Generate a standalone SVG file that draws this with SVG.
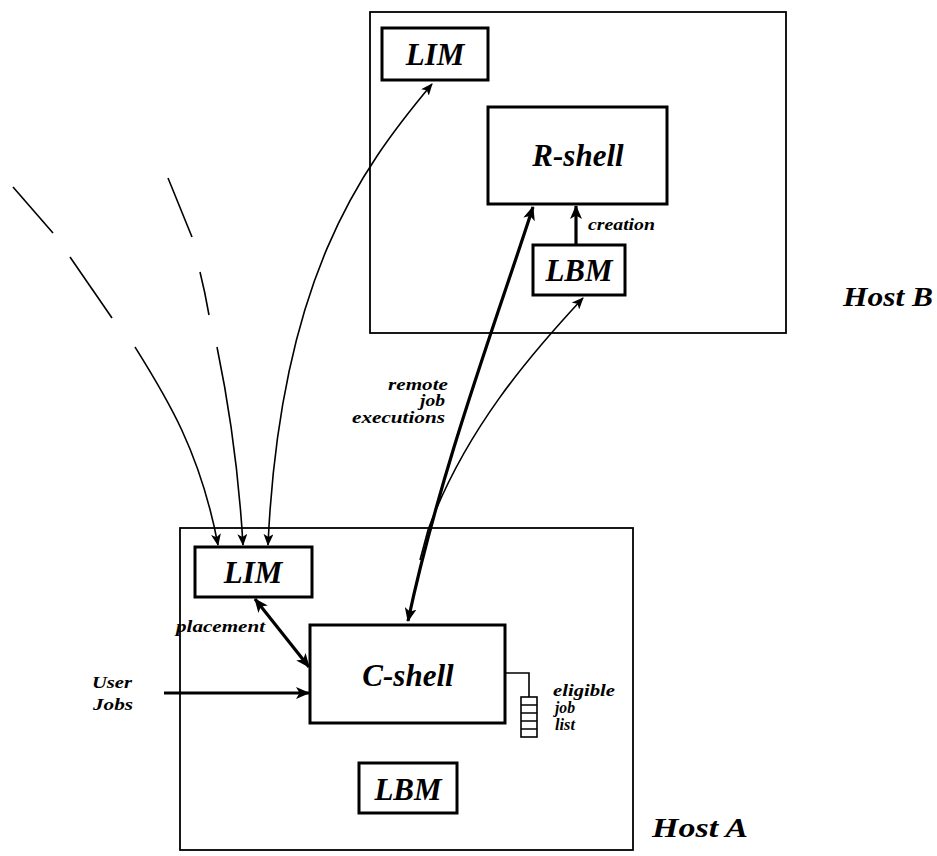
<svg xmlns="http://www.w3.org/2000/svg" width="937" height="856" viewBox="0 0 937 856">
<style>
.host{fill:none;stroke:#000;stroke-width:1.8}
.box{fill:#fff;stroke:#000;stroke-width:3}
.big{font-family:"Liberation Serif",serif;font-weight:bold;font-style:italic;font-size:31px;text-anchor:middle}
.hl{font-family:"Liberation Serif",serif;font-weight:bold;font-style:italic;font-size:28px}
.sm{font-family:"Liberation Serif",serif;font-weight:bold;font-style:italic;font-size:16px}
.thin{fill:none;stroke:#000;stroke-width:1.6}
.thick{fill:none;stroke:#000;stroke-width:3.2}
</style>
<defs>
<marker id="ah" viewBox="0 0 12 10" refX="11" refY="5" markerWidth="12" markerHeight="10" markerUnits="userSpaceOnUse" orient="auto-start-reverse">
<path d="M0,0 L12,5 L0,10 L3,5 z" fill="#000"/>
</marker>
<marker id="ahb" viewBox="0 0 14 12" refX="13" refY="6" markerWidth="14" markerHeight="12" markerUnits="userSpaceOnUse" orient="auto-start-reverse">
<path d="M0,0 L14,6 L0,12 L3.5,6 z" fill="#000"/>
</marker>
</defs>

<g id="hostB">
<rect class="host" x="370" y="12" width="416" height="321"/>
<text class="hl" x="843" y="306" textLength="90" lengthAdjust="spacingAndGlyphs">Host B</text>
</g>
<g id="hostA">
<rect class="host" x="180" y="528" width="453" height="322"/>
<text class="hl" x="652" y="837" textLength="96" lengthAdjust="spacingAndGlyphs">Host A</text>
</g>

<g id="connectors">
<!-- LIM B <-> LIM A -->
<path class="thin" d="M432,84 C360,170 280,280 268,545" marker-start="url(#ah)" marker-end="url(#ah)"/>
<!-- dashed incoming arrow 1 -->
<path class="thin" d="M13,187 L53,233"/>
<path class="thin" d="M70,257 L112,318"/>
<path class="thin" d="M135,347 C165,395 200,450 218,545" marker-end="url(#ah)"/>
<!-- dashed incoming arrow 2 -->
<path class="thin" d="M168,178 L192,237"/>
<path class="thin" d="M200,272 Q205,292 209,315"/>
<path class="thin" d="M217,347 C228,400 238,460 243,545" marker-end="url(#ah)"/>
<!-- remote job executions -->
<path class="thick" d="M533,207 C500,310 440,470 408,621" marker-start="url(#ahb)" marker-end="url(#ahb)"/>
<!-- LBM B to C-shell thin -->
<path class="thin" d="M583,298 C530,355 465,430 428,530 L420,560" marker-start="url(#ah)"/>
<!-- creation -->
<path class="thick" d="M576,245 L576,206" marker-end="url(#ahb)"/>
<!-- placement -->
<path class="thick" d="M255,599 L309,667" marker-start="url(#ahb)" marker-end="url(#ahb)"/>
<!-- user jobs -->
<path class="thick" d="M164,693 L309,693" marker-end="url(#ahb)"/>
<!-- eligible job list link -->
<path class="thin" d="M505,673 L529,673 L529,697"/>
</g>

<g id="limB">
<rect class="box" x="382" y="28" width="106" height="52"/>
<text class="big" x="435" y="65">LIM</text>
</g>
<g id="rshell">
<rect class="box" x="488" y="107" width="179" height="97"/>
<text class="big" x="578" y="166">R-shell</text>
</g>
<g id="lbmB">
<rect class="box" x="533" y="245" width="92" height="50"/>
<text class="big" x="579" y="281">LBM</text>
</g>
<g id="limA">
<rect class="box" x="195" y="547" width="117" height="50"/>
<text class="big" x="253" y="583">LIM</text>
</g>
<g id="cshell">
<rect class="box" x="310" y="625" width="195" height="98"/>
<text class="big" x="408" y="686">C-shell</text>
</g>
<g id="lbmA">
<rect class="box" x="359" y="763" width="98" height="50"/>
<text class="big" x="408" y="800">LBM</text>
</g>
<g id="jobList">
<rect x="521" y="697" width="16" height="40" fill="#fff" stroke="#000" stroke-width="1.6"/>
<path d="M521,705 H537 M521,713 H537 M521,721 H537 M521,729 H537" stroke="#000" stroke-width="1.4"/>
</g>

<g id="labels">
<text class="sm" x="588" y="230" textLength="67" lengthAdjust="spacingAndGlyphs">creation</text>
<text class="sm" x="388" y="390" textLength="60" lengthAdjust="spacingAndGlyphs">remote</text>
<text class="sm" x="420" y="406" textLength="25" lengthAdjust="spacingAndGlyphs">job</text>
<text class="sm" x="352" y="423" textLength="93" lengthAdjust="spacingAndGlyphs">executions</text>
<text class="sm" x="176" y="632" textLength="89" lengthAdjust="spacingAndGlyphs">placement</text>
<text class="sm" x="92" y="688" textLength="40" lengthAdjust="spacingAndGlyphs">User</text>
<text class="sm" x="93" y="710" textLength="40" lengthAdjust="spacingAndGlyphs">Jobs</text>
<text class="sm" x="553" y="696" textLength="62" lengthAdjust="spacingAndGlyphs">eligible</text>
<text class="sm" x="555" y="713" textLength="20" lengthAdjust="spacingAndGlyphs">job</text>
<text class="sm" x="555" y="730" textLength="20" lengthAdjust="spacingAndGlyphs">list</text>
</g>
</svg>
